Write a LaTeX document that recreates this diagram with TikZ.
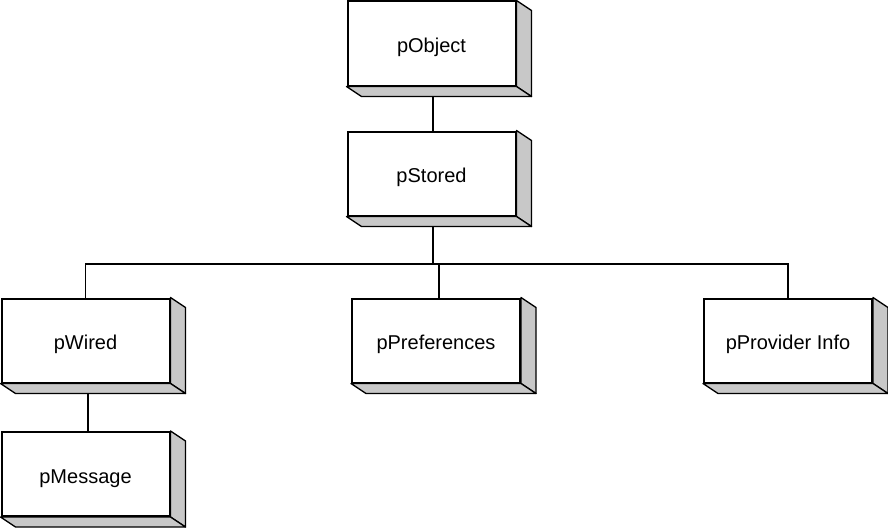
\documentclass[tikz,border=0pt]{standalone}
\usepackage{fontspec}
\setmainfont{Liberation Sans}
\usetikzlibrary{calc,backgrounds}
\definecolor{sidegray}{HTML}{C8C8C8}
\tikzset{
  face/.style={draw=black, fill=white, line width=2pt, minimum width=168pt, minimum height=84pt, inner sep=0pt, text height=18.5pt, text depth=0pt, font=\fontsize{20}{24}\selectfont},
  sideface/.style={draw=black, fill=sidegray, line width=1.3pt, line join=round},
  conn/.style={draw=black, line width=1.5pt}
}
\newcommand{\extrude}[1]{%
  \begin{scope}[on background layer]
    \path[sideface] (#1.north east) -- ++(15,10) -- ($(#1.south east)+(15,10)$) -- (#1.south east) -- cycle;
    \path[sideface] (#1.south west) -- ++(15,10) -- ($(#1.south east)+(15,10)$) -- (#1.south east) -- cycle;
  \end{scope}}
\begin{document}
\begin{tikzpicture}[x=1pt,y=-1pt]
\useasboundingbox (0,0) rectangle (888,527);
\node[face] (obj) at (431.5,43.5) {pObject};
\node[face] (stored) at (431.5,173.5) {pStored};
\node[face] (wired) at (85.5,340.5) {pWired};
\node[face] (pref) at (436,340.5) {pPreferences};
\node[face] (prov) at (788,340.5) {pProvider Info};
\node[face] (msg) at (85.5,474) {pMessage};
\extrude{obj}
\extrude{stored}
\extrude{wired}
\extrude{pref}
\extrude{prov}
\extrude{msg}
\coordinate (bus) at (433,264);
\draw[conn] ($(obj.south)+(1.5,10)$) -- ([xshift=1.5pt]stored.north);
\draw[conn] ($(stored.south)+(1.5,10)$) -- (bus);
\draw[conn] (wired.north) |- (bus) -| (prov.north);
\draw[conn] ([xshift=3pt]pref.north) -- ([xshift=3pt]pref.north |- bus);
\draw[conn] ($(wired.south)+(2.5,10)$) -- ([xshift=2.5pt]msg.north);
\end{tikzpicture}
\end{document}
